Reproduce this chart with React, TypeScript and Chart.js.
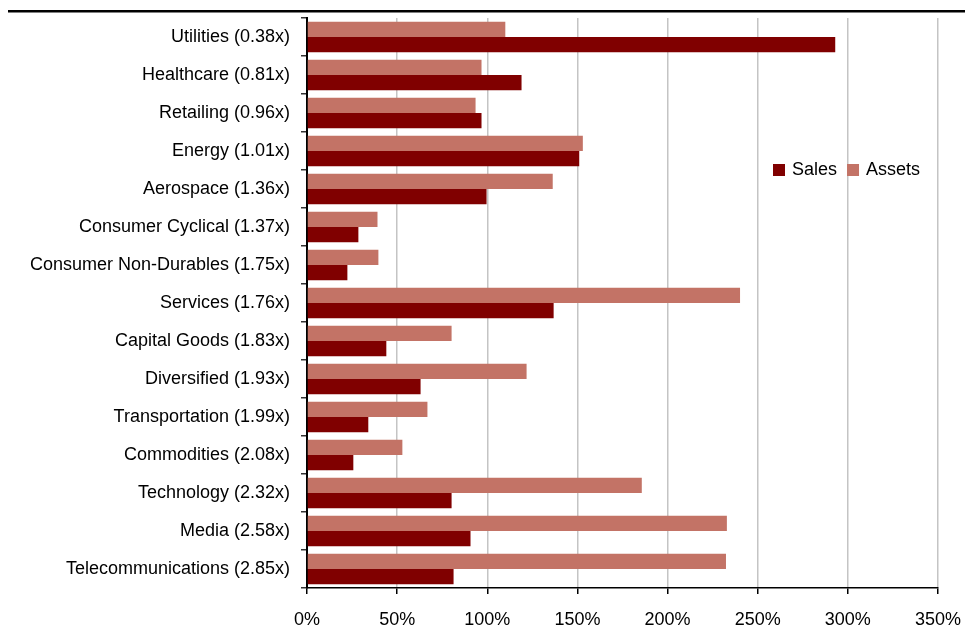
import React, { useEffect, useRef } from "react";
import { Chart, registerables } from "chart.js";

Chart.register(...registerables);

const categories = [
  "Utilities (0.38x)",
  "Healthcare (0.81x)",
  "Retailing (0.96x)",
  "Energy (1.01x)",
  "Aerospace (1.36x)",
  "Consumer Cyclical (1.37x)",
  "Consumer Non-Durables (1.75x)",
  "Services (1.76x)",
  "Capital Goods (1.83x)",
  "Diversified (1.93x)",
  "Transportation (1.99x)",
  "Commodities (2.08x)",
  "Technology (2.32x)",
  "Media (2.58x)",
  "Telecommunications (2.85x)",
];

const salesValues = [293, 119, 96.8, 151, 99.6, 28.5, 22.4, 136.8, 44, 63, 34, 25.7, 80.2, 90.7, 81.3];
const assetsValues = [110, 96.8, 93.5, 153, 136.3, 39.1, 39.6, 240.2, 80.2, 121.8, 66.8, 52.9, 185.7, 232.9, 232.4];

const xTicks = [0, 50, 100, 150, 200, 250, 300, 350];

const SALES_COLOR = "#800000";
const ASSETS_COLOR = "#C37366";
const FONT = "'Liberation Sans Narrow', 'Arial Narrow', 'Liberation Sans', sans-serif";

export default function App() {
  const ref = useRef<HTMLCanvasElement | null>(null);

  useEffect(() => {
    if (!ref.current) return;
    const decor = {
      id: "decor",
      beforeDraw(chart: any) {
        const ctx = chart.ctx;
        ctx.save();
        ctx.fillStyle = "#000";
        ctx.fillRect(8, 10, chart.width - 8, 2.5);
        ctx.restore();
      },
      afterDraw(chart: any) {
        const ctx = chart.ctx;
        ctx.save();
        ctx.font = `18px ${FONT}`;
        ctx.textBaseline = "middle";
        ctx.textAlign = "left";
        const y = 170;
        const items = [
          { label: "Sales", color: SALES_COLOR },
          { label: "Assets", color: ASSETS_COLOR },
        ];
        let x = 773;
        for (const it of items) {
          ctx.fillStyle = it.color;
          ctx.fillRect(x, y - 6, 12, 12);
          ctx.fillStyle = "#000";
          ctx.fillText(it.label, x + 19, y);
          x += 19 + ctx.measureText(it.label).width + 10;
        }
        ctx.restore();
      },
    };

    const chart = new Chart(ref.current, {
      type: "bar",
      data: {
        labels: categories,
        datasets: [
          {
            label: "Assets",
            data: assetsValues,
            backgroundColor: ASSETS_COLOR,
            categoryPercentage: 0.8,
            barPercentage: 1,
          },
          {
            label: "Sales",
            data: salesValues,
            backgroundColor: SALES_COLOR,
            categoryPercentage: 0.8,
            barPercentage: 1,
          },
        ],
      },
      options: {
        indexAxis: "y",
        animation: false,
        responsive: false,
        maintainAspectRatio: false,
        layout: { padding: { top: 18, right: 27, left: 0, bottom: 0 } },
        plugins: {
          legend: { display: false },
          tooltip: { enabled: false },
        },
        scales: {
          x: {
            min: 0,
            max: 350,
            afterBuildTicks(scale: any) {
              scale.ticks = xTicks.map((v) => ({ value: v }));
            },
            afterFit(scale: any) {
              scale.height = 56;
              scale.paddingLeft = 0;
              scale.paddingRight = 0;
            },
            grid: {
              color: "#c4c4c4",
              lineWidth: 1.5,
              tickColor: "#000",
              tickLength: 6,
              drawTicks: true,
            },
            border: { color: "#000", width: 1.5 },
            ticks: {
              color: "#000",
              font: { family: FONT, size: 18 },
              padding: 15,
              callback: (v: any) => `${v}%`,
              maxRotation: 0,
            },
          },
          y: {
            afterFit(scale: any) {
              scale.width = 307;
              scale.paddingTop = 0;
              scale.paddingBottom = 0;
            },
            grid: {
              display: true,
              drawOnChartArea: false,
              drawTicks: true,
              tickLength: 6,
              tickColor: "#333",
              lineWidth: 1.5,
              offset: true,
            },
            border: { color: "#000", width: 2 },
            ticks: {
              color: "#000",
              font: { family: FONT, size: 18 },
              padding: 11,
              autoSkip: false,
            },
          },
        },
      },
      plugins: [decor],
    });
    return () => chart.destroy();
  }, []);

  return (
    <div style={{ position: "fixed", left: 0, top: 0, width: 965, height: 644 }}>
      <canvas ref={ref} width={965} height={644} style={{ display: "block" }} />
    </div>
  );
}
